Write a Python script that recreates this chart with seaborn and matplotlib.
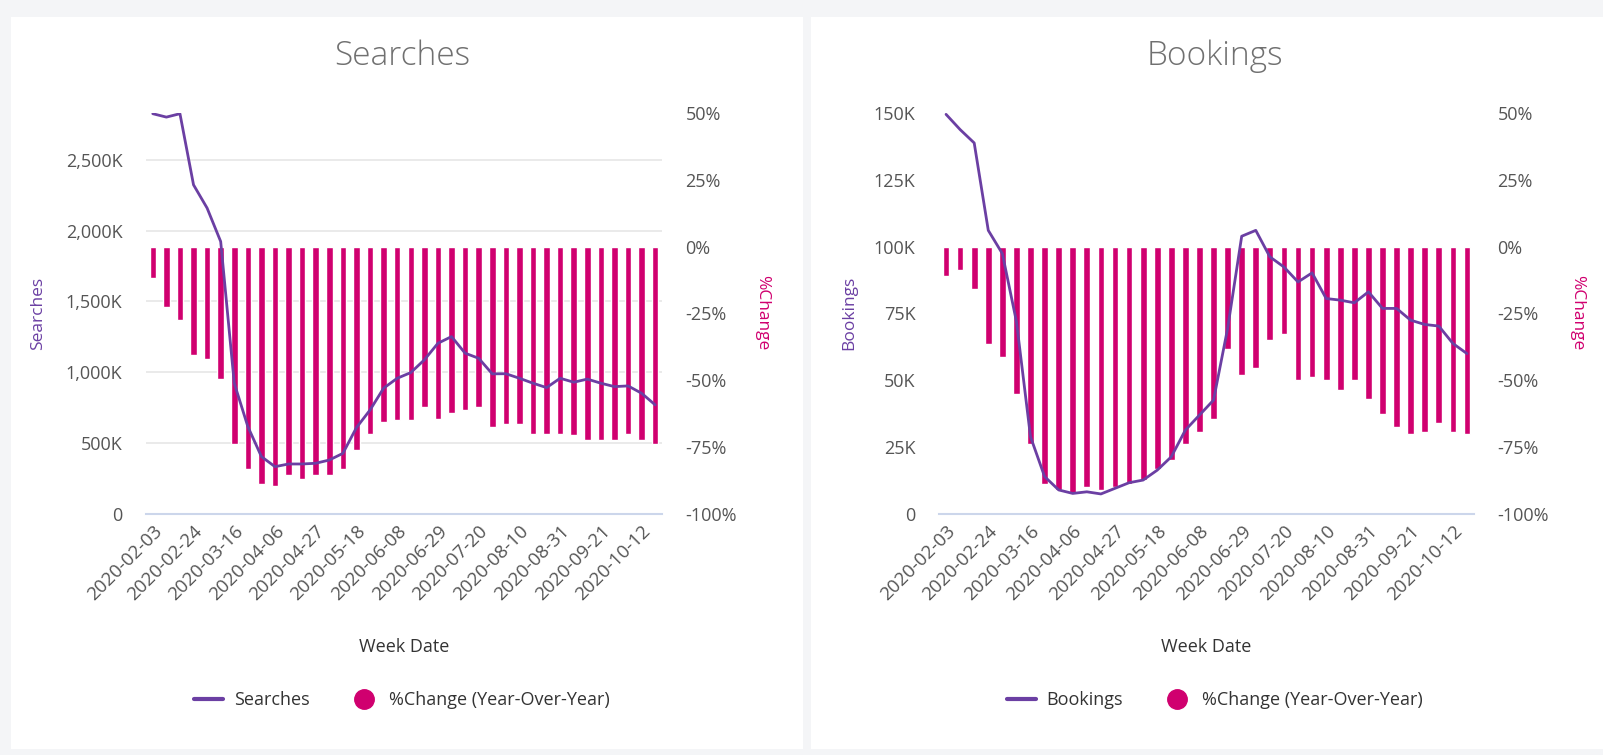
import numpy as np
import pandas as pd
import matplotlib
matplotlib.use("Agg")
import matplotlib.pyplot as plt
from matplotlib.patches import Rectangle
from matplotlib.lines import Line2D
import seaborn as sns

weeks = ["2020-02-03", "2020-02-10", "2020-02-17", "2020-02-24", "2020-03-02", "2020-03-09",
         "2020-03-16", "2020-03-23", "2020-03-30", "2020-04-06", "2020-04-13", "2020-04-20",
         "2020-04-27", "2020-05-04", "2020-05-11", "2020-05-18", "2020-05-25", "2020-06-01",
         "2020-06-08", "2020-06-15", "2020-06-22", "2020-06-29", "2020-07-06", "2020-07-13",
         "2020-07-20", "2020-07-27", "2020-08-03", "2020-08-10", "2020-08-17", "2020-08-24",
         "2020-08-31", "2020-09-07", "2020-09-14", "2020-09-21", "2020-09-28", "2020-10-05",
         "2020-10-12", "2020-10-19"]

searches = [2825, 2801, 2825, 2323, 2159, 1923, 923, 617, 405, 334, 353, 353, 358, 381,
            428, 610, 734, 888, 958, 998, 1088, 1205, 1252, 1135, 1099, 989, 990, 958,
            923, 892, 958, 930, 952, 923, 899, 904, 852, 770]
searches_pct = [-11.8, -22.4, -27.4, -40.4, -42, -49.5, -73.8, -83, -88.7, -89.6, -85.4, -87,
                -85.4, -85.4, -83, -76.2, -69.9, -65.7, -65, -65, -60, -64.3, -62.4, -61,
                -60, -67.5, -66.5, -66.5, -70, -70, -70, -70.6, -72.4, -72.4, -72.4, -70,
                -72.4, -74]

bookings = [149.5, 143.8, 138.8, 106.1, 97.4, 72, 28.9, 14, 9, 7.7, 8.3, 7.5, 9.6, 11.7,
            12.7, 16.4, 21.4, 31.4, 37, 42.6, 69.4, 103.9, 106.1, 96.2, 92.4, 86.8, 90.2,
            80.6, 80, 79, 83.1, 76.9, 76.9, 72.5, 70.9, 70.3, 63.8, 60.0]
bookings_pct = [-10.8, -8.6, -16, -36.3, -41.3, -55.2, -73.9, -88.6, -91, -92.3, -89.8, -91,
                -89.8, -88.6, -87.3, -83, -79.9, -73.9, -69.3, -64.3, -38.2, -48.1, -45.4,
                -34.8, -32.6, -49.8, -48.8, -49.8, -53.7, -49.8, -56.8, -62.7, -67.4, -69.9,
                -69.3, -65.9, -69.3, -69.9]

PURPLE = "#6b3fa3"
MAGENTA = "#d0006f"
GRID = "#e6e6e6"
TXT = "#555555"

sns.set_theme(style="white")
plt.rcParams["font.family"] = ["Open Sans", "DejaVu Sans"]

W, H = 1603, 755
fig = plt.figure(figsize=(W / 100, H / 100), dpi=100, facecolor="#f4f5f7")

# white panels behind everything
for x0 in (11, 811):
    fig.patches.append(Rectangle((x0 / W, 6 / H), 792 / W, 732 / H, transform=fig.transFigure,
                                 facecolor="white", edgecolor="none", zorder=-10))


def fmt_k(v):
    return "0" if v == 0 else f"{v:,.0f}K"


def panel(left_px, width_px, values, pct, name, ymax, lticks, cx, ylab_x, pct_x):
    ax = fig.add_axes([left_px / W, (H - 514) / H, width_px / W, 401 / H])
    ax2 = ax.twinx()
    x = np.arange(len(weeks))
    df = pd.DataFrame({"week": x, "val": values, "pct": pct})

    # bars on the percent axis (bottom layer, ticks on the right)
    sns.barplot(data=df, x="week", y="pct", color=MAGENTA, width=0.48, ax=ax,
                saturation=1, native_scale=True)
    ax.set_ylim(-100, 50)
    ax.set_xlim(-0.5, len(weeks) - 0.5)
    ax.set_yticks(np.arange(-100, 51, 25))
    ax.set_yticklabels([f"{t}%" for t in range(-100, 51, 25)])
    # gridlines for the left value scale, drawn behind the bars
    grid_pos = [-100 + t / ymax * 150 for t in lticks[1:]]
    ax.set_yticks(grid_pos, minor=True)
    ax.grid(False)
    ax.yaxis.grid(True, which="minor", color=GRID, lw=1.2)
    ax.set_axisbelow(True)
    ax.set_xticks(x[::3])
    ax.set_xticklabels([weeks[i] for i in x[::3]], rotation=45, ha="right",
                       rotation_mode="anchor")
    ax.tick_params(axis="x", length=0, pad=6, labelsize=13.5, labelcolor=TXT)
    ax.set_xlabel("Week Date", fontsize=13, color="#333333", labelpad=24)
    ax.set_ylabel("")
    for s in ax.spines.values():
        s.set_visible(False)
    ax.spines["bottom"].set_visible(True)
    ax.spines["bottom"].set_color("#ccd6eb")
    ax.spines["bottom"].set_linewidth(1.5)
    ax.patch.set_alpha(0)

    # line on the value axis (top layer, ticks on the left)
    sns.lineplot(data=df, x="week", y="val", color=PURPLE, lw=2, ax=ax2)
    ax2.set_ylim(0, ymax)
    ax2.set_yticks(lticks)
    ax2.set_yticklabels([fmt_k(t) for t in lticks])
    ax2.set_ylabel("")
    ax2.set_xlabel("")
    ax2.grid(False)
    for s in ax2.spines.values():
        s.set_visible(False)
    ax2.patch.set_alpha(0)
    ax2.set_xlim(-0.5, len(weeks) - 0.5)

    ax.yaxis.tick_right()
    ax2.yaxis.tick_left()
    ax.tick_params(axis="y", which="both", length=0, pad=17, labelsize=13, labelcolor=TXT)
    ax2.tick_params(axis="y", length=0, pad=17, labelsize=13, labelcolor=TXT)

    fig.text(cx / W, 1 - 56 / H, name, ha="center", va="center", fontsize=24,
             color="#707070", fontweight="light")
    fig.text(ylab_x / W, 1 - 313 / H, name, rotation=90, ha="center", va="center",
             fontsize=12.5, color=PURPLE)
    fig.text(pct_x / W, 1 - 313 / H, "%Change", rotation=270, ha="center", va="center",
             fontsize=12.5, color=MAGENTA)

    handles = [Line2D([], [], color=PURPLE, lw=3),
               Line2D([], [], color=MAGENTA, marker="o", ls="", markersize=14)]
    fig.legend(handles, [name, "%Change (Year-Over-Year)"], loc="center",
               bbox_to_anchor=(cx / W, 1 - 700 / H), ncol=2, frameon=False,
               fontsize=13, labelcolor="#333333", handlelength=1.6, columnspacing=2.2,
               handletextpad=0.6)
    return ax, ax2


panel(146, 516, searches, searches_pct, "Searches", 2830,
      [0, 500, 1000, 1500, 2000, 2500], 402, 38, 762)
panel(939, 535, bookings, bookings_pct, "Bookings", 150,
      [0, 25, 50, 75, 100, 125, 150], 1215, 849, 1577)

fig.savefig("out.png", dpi=100, facecolor=fig.get_facecolor())
